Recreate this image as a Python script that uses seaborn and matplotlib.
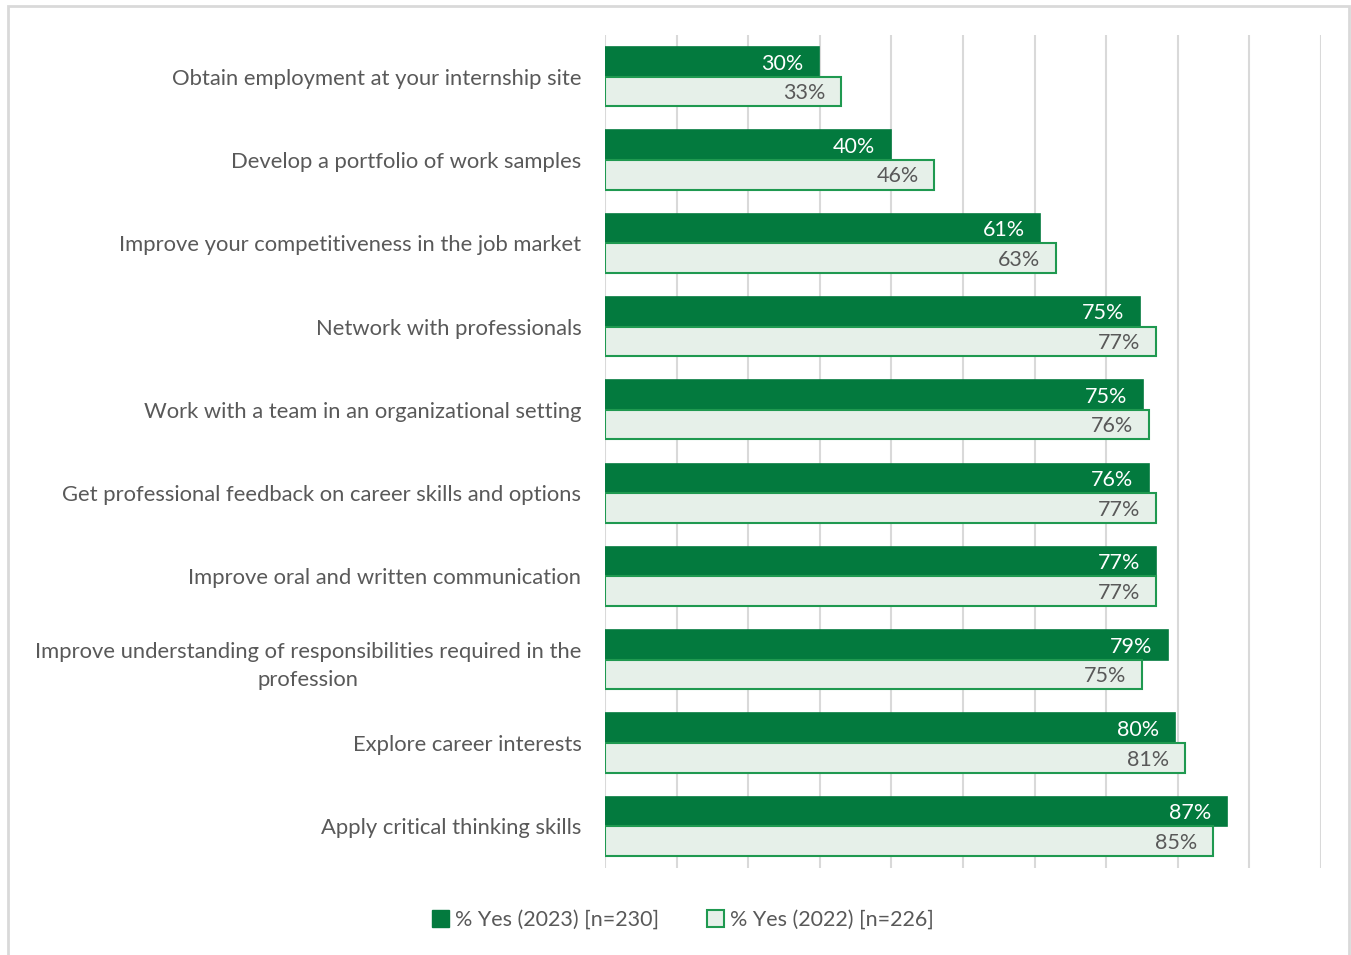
import pandas as pd
import seaborn as sns
import matplotlib.pyplot as plt
from matplotlib.patches import Patch, Rectangle

# data
categories = [
    "Obtain employment at your internship site",
    "Develop a portfolio of work samples",
    "Improve your competitiveness in the job market",
    "Network with professionals",
    "Work with a team in an organizational setting",
    "Get professional feedback on career skills and options",
    "Improve oral and written communication",
    "Improve understanding of responsibilities required in the\nprofession",
    "Explore career interests",
    "Apply critical thinking skills",
]
yes_2023 = [29.9, 39.9, 60.8, 74.7, 75.1, 76.0, 77.0, 78.6, 79.6, 86.9]
yes_2022 = [33.0, 46.0, 63.0, 77.0, 76.0, 77.0, 77.0, 75.0, 81.0, 84.9]
series = ["% Yes (2023) [n=230]", "% Yes (2022) [n=226]"]

dark_green = "#037A3E"
light_fill = "#E6F0E9"
light_edge = "#1F9950"
text_gray = "#595959"
grid_gray = "#D9D9D9"

df = pd.concat([
    pd.DataFrame({"Item": categories, "Value": yes_2023, "Series": series[0]}),
    pd.DataFrame({"Item": categories, "Value": yes_2022, "Series": series[1]}),
])

sns.set_style("white")
plt.rcParams["font.family"] = ["Lato", "DejaVu Sans"]

fig = plt.figure(figsize=(13.51, 9.55), dpi=100)
ax = fig.add_axes([605 / 1351, 1 - 868 / 955, (1321 - 605) / 1351, (868 - 35) / 955])

sns.barplot(data=df, y="Item", x="Value", hue="Series", hue_order=series,
            orient="h", width=0.71, gap=0, ax=ax, legend=False,
            palette=[dark_green, light_fill])

# styling of the two series
for patch in ax.containers[0]:
    patch.set_facecolor(dark_green)
    patch.set_edgecolor(dark_green)
    patch.set_linewidth(1.2)
for patch in ax.containers[1]:
    patch.set_facecolor(light_fill)
    patch.set_edgecolor(light_edge)
    patch.set_linewidth(1.5)

# value labels inside the bar end
for cont, col in zip(ax.containers, ["white", text_gray]):
    for patch in cont:
        v = patch.get_width()
        ax.text(v - 2.2, patch.get_y() + patch.get_height() / 2 + 0.02, f"{round(v):d}%",
                ha="right", va="center", fontsize=15.5, color=col)

ax.set_xlim(0, 100)
ax.set_xticks(range(0, 101, 10))
ax.xaxis.grid(True, color=grid_gray, linewidth=1.5)
ax.set_axisbelow(True)
ax.set_xticklabels([])
ax.tick_params(axis="x", length=0)
ax.tick_params(axis="y", length=0, pad=17, labelsize=15.8, labelcolor=text_gray)
for lab in ax.get_yticklabels():
    lab.set_multialignment("center")
    lab.set_linespacing(1.5)
for s in ax.spines.values():
    s.set_visible(False)
ax.set_xlabel("")
ax.set_ylabel("")

handles = [Patch(facecolor=dark_green, edgecolor=dark_green),
           Patch(facecolor=light_fill, edgecolor=light_edge, linewidth=1.5)]
fig.legend(handles, series, loc="center", bbox_to_anchor=(683 / 1351, 1 - 920 / 955),
           ncol=2, frameon=False, fontsize=15.5, labelcolor=text_gray,
           handlelength=0.8, handleheight=0.8, handletextpad=0.3, columnspacing=2.2)

fig.patches.append(Rectangle((8 / 1351, -0.01), 1341 / 1351, 1.01 - 6 / 955,
                             transform=fig.transFigure, fill=False,
                             edgecolor=grid_gray, linewidth=2))

fig.savefig("out.png", dpi=100)
